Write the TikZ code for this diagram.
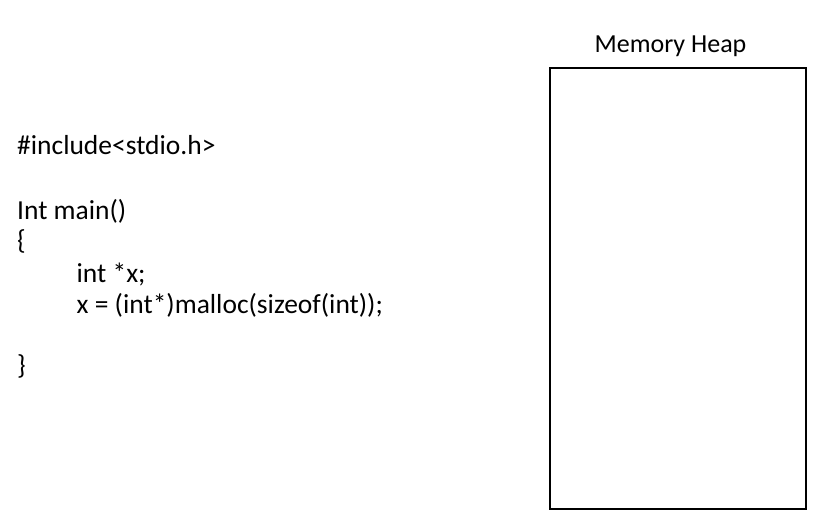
\documentclass[tikz,border=0pt]{standalone}
\usepackage{fontspec}
\setmainfont{Carlito}
\begin{document}
\begin{tikzpicture}[x=1pt,y=-1pt,
  code/.style={anchor=base west,inner sep=0pt,font=\fontsize{27.5}{33}\selectfont},
  heaplabel/.style={anchor=base,inner sep=0pt,font=\fontsize{26}{31}\selectfont},
  heapbox/.style={draw=black,line width=2pt}]
\useasboundingbox (0,0) rectangle (826,528);
\node[code] (inc) at (17,154) {\#include<stdio.h>};
\node[code] (mainl) at (17,219) {Int main()};
\node[code] (ob) at (17,249.5) {\{};
\node[code] (decl) at (76.5,282.5) {int *x;};
\node[code] (assign) at (76.5,313) {x = (int*)malloc(sizeof(int));};
\node[code] (cb) at (17,374.5) {\}};
\node[heapbox,minimum width=256pt,minimum height=441pt,inner sep=0pt,anchor=north west] (heap) at (549,66.5) {};
\node[heaplabel] (hl) at (670.5,52.5) {Memory Heap};
\end{tikzpicture}
\end{document}
